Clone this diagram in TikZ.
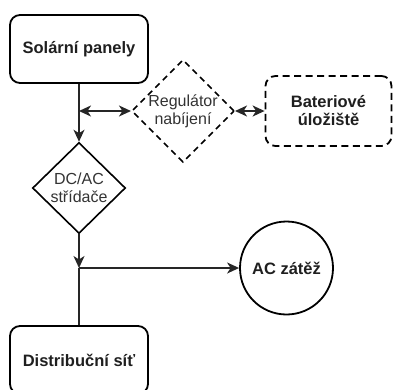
\documentclass[tikz,border=0pt]{standalone}
\usepackage{fontspec}
\setmainfont{Liberation Sans}
\usetikzlibrary{arrows.meta,shapes.geometric}

\tikzset{
  every node/.style={font=\fontsize{16}{18}\selectfont, align=center, text=black!88},
  flowbox/.style={draw, line width=1.8pt, rounded corners=10pt, minimum width=138pt, minimum height=68pt, font=\fontsize{16.5}{18}\selectfont\bfseries},
  dashbox/.style={flowbox, dash pattern=on 7pt off 4.5pt, minimum width=126pt, minimum height=70pt},
  decision/.style={draw, line width=1.6pt, diamond, inner sep=0pt, minimum width=93pt, minimum height=91pt, text=black!80},
  loadcircle/.style={draw, line width=1.8pt, circle, minimum size=93pt, inner sep=0pt, font=\fontsize{16.5}{18}\selectfont\bfseries},
  conn/.style={line width=1.8pt, draw=black!85},
  tip/.style={-{Stealth[length=12pt,width=11pt,inset=3.5pt]}},
  bitip/.style={{Stealth[length=12pt,width=11pt,inset=3.5pt]}-{Stealth[length=12pt,width=11pt,inset=3.5pt]}}
}

\begin{document}
\begin{tikzpicture}[x=1pt,y=-1pt]
  \useasboundingbox (0,0) rectangle (394,389);
  \clip (0,0) rectangle (394,389);

  % main column
  \node[flowbox] (solar) at (79,49) {Solární panely};
  \node[decision] (inv) at (79,188) {DC/AC\\střídače};
  \node[flowbox] (grid) at (79,360) {Distribuční síť};

  % storage branch
  \node[decision, dash pattern=on 6pt off 4.5pt] (reg) at (183,111) {Regulátor\\nabíjení};
  \node[dashbox] (bat) at (328.5,111) {Bateriové\\úložiště};

  % load
  \node[loadcircle] (load) at (286.5,268) {AC zátěž};

  % junction points
  \coordinate (tap) at (79,111);
  \coordinate (split) at (79,268);

  % connectors
  \draw[conn, tip] (solar.south) -- (inv.north);
  \draw[conn, bitip] (tap) -- (reg.west);
  \draw[conn, bitip] (reg.east) -- (bat.west);
  \draw[conn, tip] (inv.south) -- (split);
  \draw[conn] (split) -- (grid.north);
  \draw[conn, tip] (split) -- (load.west);
\end{tikzpicture}
\end{document}
